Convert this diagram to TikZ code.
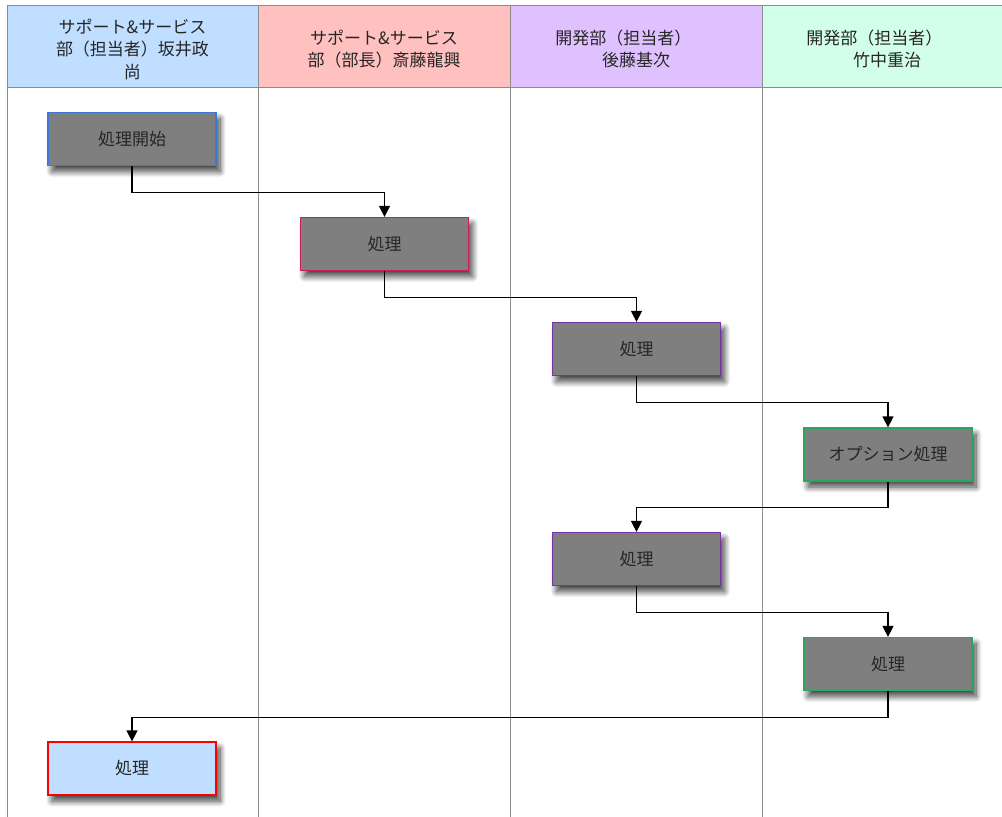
\documentclass[tikz,border=0pt]{standalone}
\usepackage{fontspec}
\newfontfamily\jp{Noto Sans CJK JP}
\usetikzlibrary{arrows.meta,shadows.blur}
\definecolor{laneblue}{HTML}{C0DEFF}
\definecolor{lanepink}{HTML}{FFC0C0}
\definecolor{lanepurple}{HTML}{DFC1FF}
\definecolor{lanegreen}{HTML}{D2FFE8}
\definecolor{boxgray}{HTML}{7F7F7F}
\definecolor{edgeblue}{HTML}{3C78D8}
\definecolor{edgecrimson}{HTML}{CC1F4F}
\definecolor{edgepurple}{HTML}{7434A4}
\definecolor{edgegreen}{HTML}{27A85A}
\begin{document}
\begin{tikzpicture}[x=1pt,y=-1pt,
  proc/.style={rectangle,fill=boxgray,line width=1.2pt,minimum width=168pt,minimum height=53pt,inner sep=0pt,
    font=\jp\fontsize{17}{20}\selectfont,text=black!85,
    blur shadow={shadow xshift=4pt,shadow yshift=-6pt,shadow blur radius=6pt,shadow blur steps=12,shadow opacity=75}},
  head/.style={align=center,font=\jp\fontsize{17}{22.5}\selectfont,text=black!85},
  gridline/.style={draw=black!45,line width=1pt},
  flow/.style={-{Triangle[length=11pt,width=11pt]},line width=1.2pt}]
  \useasboundingbox (0,0) rectangle (1002,817);
  % lane headers
  \foreach \xa/\xb/\c in {7/258/laneblue,258/510/lanepink,510/762/lanepurple,762/1002/lanegreen}
    \fill[\c] (\xa,5) rectangle (\xb,87);
  \draw[gridline] (7,5) -- (1002,5);
  \draw[gridline] (7,87) -- (1002,87);
  \foreach \x in {7,258,510,762}
    \draw[gridline] (\x,5) -- (\x,817);
  \node[head] (lane1) at (132.5,49) {サポート\&サービス\\部（担当者）坂井政\\尚};
  \node[head] (lane2) at (384,49) {サポート\&サービス\\部（部長）斎藤龍興};
  \node[head] (lane3) at (636,49) {開発部（担当者）\hspace*{1.5em}\\後藤基次};
  \node[head] (lane4) at (887,49) {開発部（担当者）\hspace*{1.5em}\\竹中重治};
  % steps
  \node[proc,draw=edgeblue] (start) at (132,139) {処理開始};
  \node[proc,draw=edgecrimson] (p1) at (384.5,244) {処理};
  \node[proc,draw=edgepurple] (p2) at (636.5,349) {処理};
  \node[proc,draw=edgegreen] (opt) at (888,454.5) {オプション処理};
  \node[proc,draw=edgepurple] (p3) at (636.5,559) {処理};
  \node[proc,draw=edgegreen] (p4) at (888,664) {処理};
  \node[proc,draw=red,fill=laneblue] (last) at (132,768.5) {処理};
  % flow
  \foreach \a/\b in {start/p1,p1/p2,p2/opt,opt/p3,p3/p4,p4/last}
    \draw[flow] (\a.south) -- ++(0,26) -| (\b.north);
\end{tikzpicture}
\end{document}
